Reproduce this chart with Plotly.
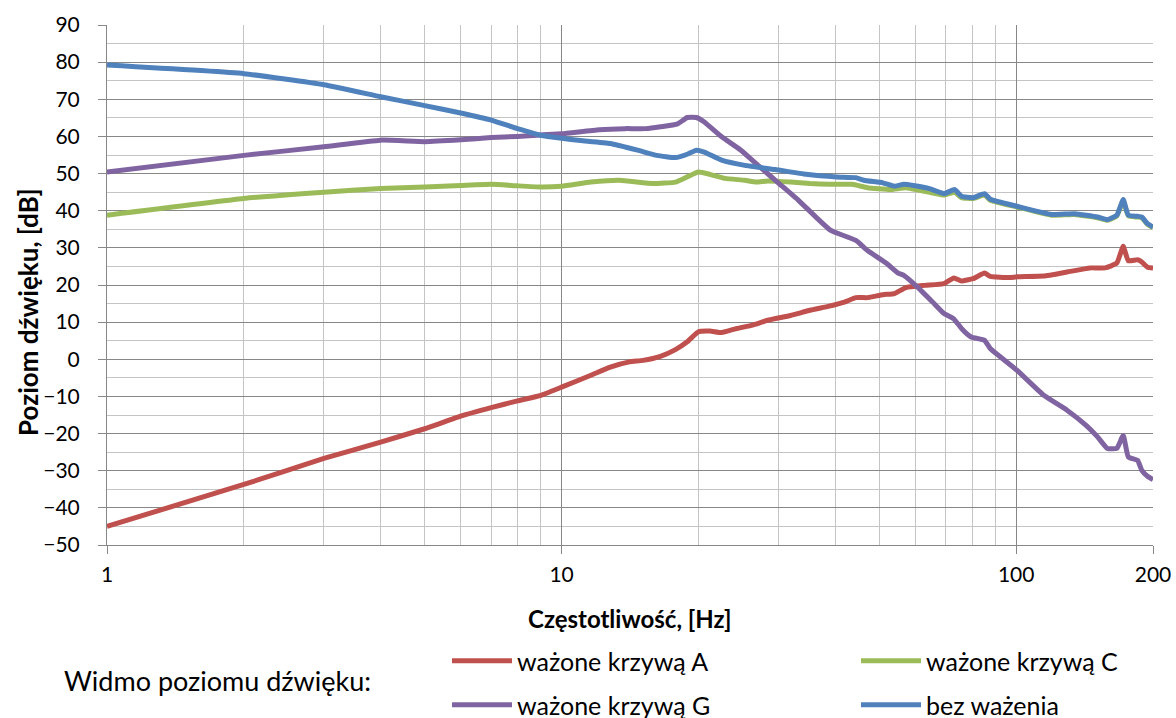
import numpy as np
import plotly.graph_objects as go

# Sound pressure level spectra (frequency in Hz, level in dB)
freq_a = [1, 2, 3, 4, 5, 6, 7, 8, 9, 10, 11.6, 12.8, 14.1, 15.1, 16.5, 17.8, 18.9, 20,
          21.2, 22.5, 24.3, 26.3, 28.4, 31.9, 35.2, 38.8, 41.9, 44.4, 47.1, 50.9, 54,
          57.2, 63, 69.4, 72.9, 75.8, 80.4, 85.2, 87.7, 96.7, 100.5, 115, 129.4, 145.3,
          157, 166.5, 172, 176.5, 185, 189, 194.5, 200]
level_a = [-45.0, -33.7, -26.7, -22.3, -18.7, -15.3, -13.0, -11.2, -9.7, -7.5, -4.3, -2.1,
           -0.7, -0.3, 0.8, 2.6, 4.7, 7.4, 7.6, 7.2, 8.3, 9.2, 10.5, 11.8, 13.2, 14.3, 15.4,
           16.6, 16.6, 17.4, 17.7, 19.3, 19.9, 20.4, 21.9, 21.1, 21.7, 23.2, 22.3, 22.0,
           22.2, 22.4, 23.5, 24.6, 24.6, 25.9, 30.4, 26.5, 26.8, 26.2, 24.8, 24.6]

freq_c = [1, 2, 3, 4, 5, 6, 7, 8, 9, 10, 11.6, 13.4, 15.9, 17.8, 18.9, 20, 21.2, 22.9,
          25.3, 26.8, 28.4, 31.9, 35.2, 38.8, 43.6, 47.1, 52.9, 57.2, 64.2, 69.4, 73.2,
          75.8, 80.4, 85.2, 87.7, 100.5, 119.7, 134.5, 151, 158.7, 166.5, 172, 176.5,
          185, 189, 194.5, 200]
level_c = [38.8, 43.3, 45.0, 46.0, 46.4, 46.8, 47.1, 46.7, 46.4, 46.6, 47.7, 48.2, 47.3,
           47.7, 49.1, 50.4, 49.8, 48.7, 48.2, 47.7, 48.0, 47.7, 47.3, 47.1, 47.1, 46.2,
           45.7, 46.2, 45.0, 44.2, 45.0, 43.5, 43.3, 44.2, 42.8, 41.0, 38.8, 39.0, 38.1,
           37.4, 38.6, 42.6, 38.6, 38.3, 38.1, 36.3, 35.4]

freq_g = [1, 2, 3, 4, 5, 6, 7, 8, 9, 10, 12.1, 13.8, 15.3, 16.5, 18, 18.9, 19.8, 20.6,
          22.5, 24.8, 27.3, 30.1, 33.2, 35.9, 39.1, 44.4, 47.1, 51.9, 55, 56.6, 60.6,
          65.5, 69.4, 72.9, 75.8, 79.6, 85.2, 87.7, 100.5, 115, 129.4, 142.5, 151, 158.7,
          166.5, 172, 176.5, 185, 189, 194.5, 200]
level_g = [50.4, 54.9, 57.2, 59.0, 58.6, 59.1, 59.7, 60.0, 60.4, 60.7, 61.8, 62.1, 62.1,
           62.6, 63.4, 65.1, 65.1, 63.9, 59.9, 56.3, 51.8, 47.3, 42.8, 38.8, 34.7, 32.0,
           29.3, 25.8, 23.2, 22.6, 19.5, 15.4, 12.3, 10.9, 8.3, 6.0, 5.1, 2.9, -3.0, -9.7,
           -13.7, -17.8, -20.9, -24.0, -24.0, -20.5, -26.3, -27.2, -29.9, -31.5, -32.4]

freq_z = [1, 2, 3, 4, 5, 6, 7, 8, 9, 10, 11, 12.8, 14.7, 16.2, 17.8, 18.9, 19.8, 20.6,
          22.5, 25.3, 29.5, 34.5, 40.3, 44.4, 46.2, 50.9, 54, 56.6, 59.4, 64.2, 69.4,
          73.2, 75.8, 80.4, 85.2, 87.7, 100.5, 119.7, 134.5, 151, 158.7, 166.5, 172,
          176.5, 185, 189, 194.5, 200]
level_z = [79.2, 76.9, 73.9, 70.7, 68.3, 66.3, 64.4, 62.1, 60.3, 59.5, 58.9, 58.1, 56.3,
           54.9, 54.3, 55.2, 56.3, 55.8, 53.6, 52.2, 51.1, 49.8, 49.1, 48.9, 48.2, 47.5,
           46.6, 47.1, 46.8, 46.0, 44.6, 45.7, 43.9, 43.5, 44.6, 43.1, 41.2, 39.0, 39.2,
           38.3, 37.6, 38.8, 43.0, 38.8, 38.5, 38.3, 36.5, 35.6]

x_ticks = [1, 10, 100, 200]
x_minor = [2, 3, 4, 5, 6, 7, 8, 9, 20, 30, 40, 50, 60, 70, 80, 90]

FONT = "Lato"
DARK_GRID = "#878787"
LIGHT_GRID = "#C4C4C4"

series = [
    ("ważone krzywą A", freq_a, level_a, "#C0504D", "legend"),
    ("ważone krzywą C", freq_c, level_c, "#9BBB59", "legend"),
    ("ważone krzywą G", freq_g, level_g, "#8064A2", "legend2"),
    ("bez ważenia", freq_z, level_z, "#4F81BD", "legend2"),
]

fig = go.Figure()
for name, xs, ys, color, leg in series:
    fig.add_trace(go.Scatter(
        x=xs, y=ys, mode="lines", name=name, legend=leg,
        line=dict(color=color, width=5, shape="spline", smoothing=0.4),
    ))

fig.update_xaxes(
    type="log", range=[0, np.log10(200)], automargin=False,
    tickvals=x_ticks, ticktext=[str(v) for v in x_ticks],
    showgrid=True, gridcolor=DARK_GRID, gridwidth=1,
    minor=dict(tickvals=x_minor, showgrid=True, gridcolor=LIGHT_GRID, gridwidth=1, ticks=""),
    ticks="outside", ticklen=8, tickcolor=DARK_GRID,
    showline=True, linecolor=DARK_GRID, linewidth=1,
    ticklabelstandoff=3,
    tickfont=dict(family=FONT, size=21, color="black"),
    zeroline=False,
)
fig.update_yaxes(
    range=[-50, 90], tick0=0, dtick=10, automargin=False,
    showgrid=True, gridcolor=DARK_GRID, gridwidth=1,
    minor=dict(dtick=5, showgrid=True, gridcolor=LIGHT_GRID, gridwidth=1, ticks=""),
    ticks="outside", ticklen=8, tickcolor=DARK_GRID,
    showline=True, linecolor=DARK_GRID, linewidth=1,
    ticklabelstandoff=14,
    tickfont=dict(family=FONT, size=21, color="black"),
    zeroline=False,
)

legend_common = dict(
    orientation="h", xref="container", yref="container",
    xanchor="left", yanchor="middle",
    entrywidth=334, entrywidthmode="pixels", itemwidth=60,
    font=dict(family=FONT, size=25, color="black"),
    bgcolor="rgba(0,0,0,0)", borderwidth=0,
)

fig.update_layout(
    width=1176, height=718,
    margin=dict(l=107, r=23, t=25, b=173),
    plot_bgcolor="white", paper_bgcolor="white",
    font=dict(family=FONT, size=21, color="black"),
    showlegend=True,
    legend=dict(x=447 / 1176, y=1 - 661 / 718, **legend_common),
    legend2=dict(x=447 / 1176, y=1 - 705 / 718, **legend_common),
    annotations=[
        dict(text="<b>Częstotliwość, [Hz]</b>", xref="paper", yref="paper",
             x=0.5, y=(545 - 618) / 520, xanchor="center", yanchor="middle",
             showarrow=False, font=dict(family=FONT, size=24, color="black")),
        dict(text="<b>Poziom dźwięku, [dB]</b>", xref="paper", yref="paper",
             x=(28 - 107) / 1046, y=(545 - 312) / 520, xanchor="center", yanchor="middle",
             textangle=-90, showarrow=False, font=dict(family=FONT, size=26, color="black")),
        dict(text="Widmo poziomu dźwięku:", xref="paper", yref="paper",
             x=(62 - 107) / 1046, y=(545 - 680) / 520, xanchor="left", yanchor="middle",
             showarrow=False, font=dict(family=FONT, size=27, color="black")),
    ],
)

fig.write_html("out.html")
